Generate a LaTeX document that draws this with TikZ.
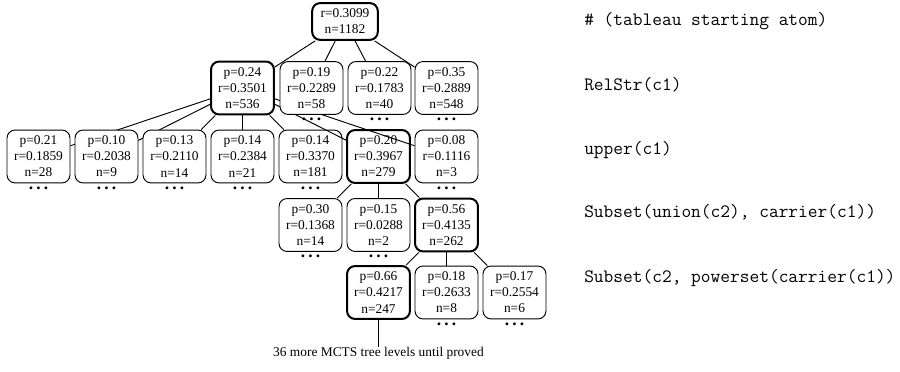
\documentclass[tikz,border=0pt]{standalone}
\usepackage{fontspec}
\setmainfont{Liberation Serif}
\begin{document}
\begin{tikzpicture}[
  x=0.74667pt, y=-0.74667pt,
  tn/.style={draw, rounded corners=6pt, fill=white, minimum width=47pt, minimum height=39.5pt,
             inner sep=1pt, align=center, font=\fontsize{10}{12}\selectfont, line width=0.7pt},
  hot/.style={tn, line width=1.5pt},
  rootn/.style={hot, minimum height=27.5pt, minimum width=49pt},
  edge/.style={line width=0.7pt},
  dotsn/.style={inner sep=0pt, anchor=north, yshift=-2.3pt, font=\bfseries\fontsize{13}{14}\selectfont},
  code/.style={anchor=base west, inner sep=0pt, font=\ttfamily\fontsize{14.1}{16}\selectfont},
  note/.style={anchor=base, inner sep=0.5pt, font=\fontsize{10}{12}\selectfont}
]
\useasboundingbox (0,0) rectangle (900,372);
\newcommand{\tdots}{.\kern2.4pt.\kern2.4pt.}

% root and expanded path (DFS order, edge drawn after its head node)
\node[rootn] (root) at (345,21.5) {r=0.3099\\n=1182};

\node[hot] (A) at (242.5,88) {p=0.24\\r=0.3501\\n=536};
\draw[edge] (root) -- (A);

\node[tn] (E) at (38.5,156.5) {p=0.21\\r=0.1859\\n=28};
\node[dotsn] (Ed) at (E.south) {\tdots};
\draw[edge] (A) -- (E);
\node[tn] (F) at (106.5,156.5) {p=0.10\\r=0.2038\\n=9};
\node[dotsn] (Fd) at (F.south) {\tdots};
\draw[edge] (A) -- (F);
\node[tn] (G) at (174.5,156.5) {p=0.13\\r=0.2110\\n=14};
\node[dotsn] (Gd) at (G.south) {\tdots};
\draw[edge] (A) -- (G);
\node[tn] (H) at (242.5,156.5) {p=0.14\\r=0.2384\\n=21};
\node[dotsn] (Hd) at (H.south) {\tdots};
\draw[edge] (A) -- (H);
\node[tn] (I) at (310.5,156.5) {p=0.14\\r=0.3370\\n=181};
\node[dotsn] (Id) at (I.south) {\tdots};
\draw[edge] (A) -- (I);
\node[hot] (J) at (378.5,156.5) {p=0.20\\r=0.3967\\n=279};
\draw[edge] (A) -- (J);

\node[tn] (L) at (310.5,225) {p=0.30\\r=0.1368\\n=14};
\node[dotsn] (Ld) at (L.south) {\tdots};
\draw[edge] (J) -- (L);
\node[tn] (M) at (378.5,225) {p=0.15\\r=0.0288\\n=2};
\node[dotsn] (Md) at (M.south) {\tdots};
\draw[edge] (J) -- (M);
\node[hot] (N) at (446.5,225) {p=0.56\\r=0.4135\\n=262};
\draw[edge] (J) -- (N);

\node[hot] (O) at (378.5,292.5) {p=0.66\\r=0.4217\\n=247};
\draw[edge] (N) -- (O);
\node[note] (more) at (378.5,357) {36 more MCTS tree levels until proved};
\draw[edge] (O.south) -- (more.north);
\node[tn] (P) at (446.5,292.5) {p=0.18\\r=0.2633\\n=8};
\node[dotsn] (Pd) at (P.south) {\tdots};
\draw[edge] (N) -- (P);
\node[tn] (Q) at (514.5,292.5) {p=0.17\\r=0.2554\\n=6};
\node[dotsn] (Qd) at (Q.south) {\tdots};
\draw[edge] (N) -- (Q);

\node[tn] (K) at (446.5,156.5) {p=0.08\\r=0.1116\\n=3};
\node[dotsn] (Kd) at (K.south) {\tdots};
\draw[edge] (A) -- (K);

\node[tn] (B) at (311.5,88) {p=0.19\\r=0.2289\\n=58};
\node[dotsn] (Bd) at (B.south) {\tdots};
\draw[edge] (root) -- (B);
\node[tn] (C) at (379.5,88) {p=0.22\\r=0.1783\\n=40};
\node[dotsn] (Cd) at (C.south) {\tdots};
\draw[edge] (root) -- (C);
\node[tn] (D) at (446.5,88) {p=0.35\\r=0.2889\\n=548};
\node[dotsn] (Dd) at (D.south) {\tdots};
\draw[edge] (root) -- (D);

% atoms on the right
\node[code] (t0) at (584,26) {\# (tableau starting atom)};
\node[code] (t1) at (584,91) {RelStr(c1)};
\node[code] (t2) at (584,155) {upper(c1)};
\node[code] (t3) at (584,218) {Subset(union(c2), carrier(c1))};
\node[code] (t4) at (584,283) {Subset(c2, powerset(carrier(c1))};
\end{tikzpicture}
\end{document}
